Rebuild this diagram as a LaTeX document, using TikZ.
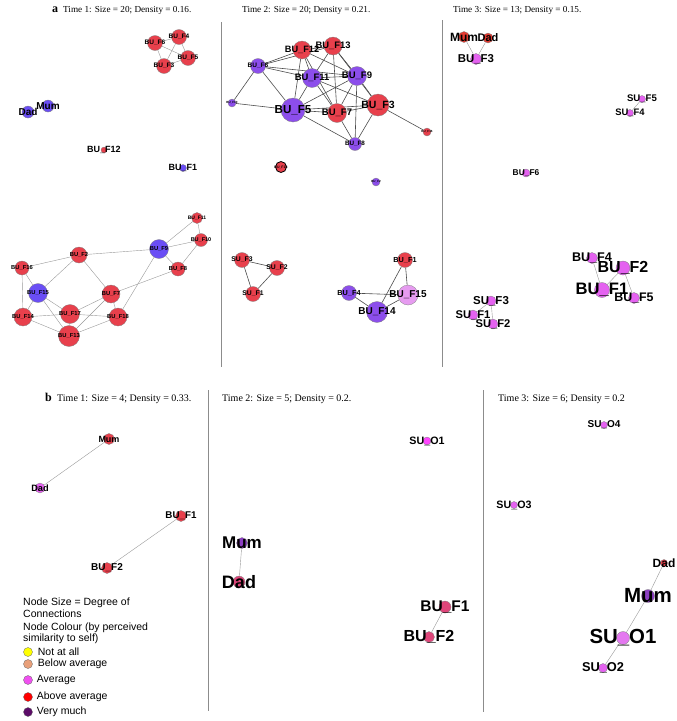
\documentclass[tikz,border=0pt]{standalone}
\usepackage{fontspec}
\setmainfont{Liberation Serif}
\setsansfont{Liberation Sans}
\usepackage{xcolor}
\usetikzlibrary{positioning,backgrounds}

\definecolor{nodeRed}{RGB}{232,64,76}
\definecolor{nodeBlue}{RGB}{106,78,245}
\definecolor{nodeViolet}{RGB}{140,78,235}
\definecolor{nodeLilac}{RGB}{230,155,240}
\definecolor{nodeMagenta}{RGB}{228,98,240}
\definecolor{nodeOrange}{RGB}{228,58,48}
\definecolor{nodeRose}{RGB}{222,70,122}
\definecolor{nodePink}{RGB}{255,70,255}
\definecolor{nodePlum}{RGB}{140,62,195}
\definecolor{nodeOrchid}{RGB}{228,120,240}
\definecolor{legYellow}{RGB}{255,255,0}
\definecolor{legPeach}{RGB}{232,160,122}
\definecolor{legMagenta}{RGB}{240,80,240}
\definecolor{legRed}{RGB}{255,0,0}
\definecolor{legPurple}{RGB}{92,12,104}

\begin{document}
\begin{tikzpicture}[
    x=1pt, y=-1pt,
    vtx/.style={circle, draw=black!50, line width=0.3pt, fill=#1, inner sep=0pt},
    vtx/.default=nodeRed,
    lab/.style={font=\fontsize{#1}{#1}\selectfont\sffamily\bfseries, inner sep=0pt, text=black},
    link/.style={draw=black!40, line width=0.4pt},
    darklink/.style={draw=black!70, line width=0.6pt},
    hdr/.style={font=\fontsize{#1}{11}\selectfont, anchor=base west, inner sep=0pt},
    tag/.style={font=\fontsize{12}{12}\selectfont\bfseries, anchor=base west, inner sep=0pt},
    legtext/.style={font=\fontsize{10.5}{12}\selectfont\sffamily, inner sep=0pt},
    legdot/.style={circle, draw=black!60, line width=0.3pt, fill=#1, minimum size=9pt, inner sep=0pt},
    divider/.style={draw=black!45, line width=0.7pt},
  ]
  \useasboundingbox (0,0) rectangle (677,721);

  % Panel separators
  \draw[divider] (221,22) -- (221,367);
  \draw[divider] (442,20) -- (442,367);
  \draw[divider] (208,390) -- (208,711);
  \draw[divider] (483,390) -- (483,712);

  % Headers
  \node[tag] (taga) at (52,12.5) {a};
  \node[hdr=9.2] (ha1) at (63,12.5) {Time 1: Size = 20; Density = 0.16.};
  \node[hdr=9.2] (ha2) at (242,12.5) {Time 2: Size = 20; Density = 0.21.};
  \node[hdr=9.2] (ha3) at (453,12.5) {Time 3: Size = 13; Density = 0.15.};
  \node[tag] (tagb) at (45,401) {b};
  \node[hdr=10] (hb1) at (57,401) {Time 1: Size = 4; Density = 0.33.};
  \node[hdr=10] (hb2) at (222,401) {Time 2: Size = 5; Density = 0.2.};
  \node[hdr=10] (hb3) at (498,401) {Time 3: Size = 6; Density = 0.2};

  % a, Time 1
  \node[vtx=nodeRed, minimum size=15pt, label={[lab=6.5]center:BU\_F4}] (a1f4) at (179,37) {};
  \node[vtx=nodeRed, minimum size=15pt, label={[lab=6.5]center:BU\_F6}] (a1f6) at (155,43) {};
  \node[vtx=nodeRed, minimum size=15pt, label={[lab=6.5]center:BU\_F5}] (a1f5) at (188,58) {};
  \node[vtx=nodeRed, minimum size=15pt, label={[lab=6.5]center:BU\_F3}] (a1f3) at (164,66) {};
  \node[vtx=nodeBlue, minimum size=12pt, label={[lab=10]center:Dad}] (a1dad) at (28,112) {};
  \node[vtx=nodeBlue, minimum size=12pt, label={[lab=10]center:Mum}] (a1mum) at (48,106) {};
  \node[vtx=nodeRed, minimum size=6pt, label={[lab=9]center:BU\_F12}] (a1f12) at (104,150) {};
  \node[vtx=nodeBlue, minimum size=7pt, label={[lab=9]center:BU\_F1}] (a1f1) at (183,168) {};
  \node[vtx=nodeRed, minimum size=11pt, label={[lab=5]center:BU\_F11}] (a1f11) at (197,218) {};
  \node[vtx=nodeRed, minimum size=13pt, label={[lab=5.5]center:BU\_F10}] (a1f10) at (201,240) {};
  \node[vtx=nodeBlue, minimum size=19pt, label={[lab=5.8]center:BU\_F9}] (a1f9) at (159,249) {};
  \node[vtx=nodeRed, minimum size=16pt, label={[lab=5.8]center:BU\_F2}] (a1f2) at (79,255) {};
  \node[vtx=nodeRed, minimum size=14pt, label={[lab=5.8]center:BU\_F16}] (a1f16) at (22,268) {};
  \node[vtx=nodeRed, minimum size=14pt, label={[lab=5.8]center:BU\_F8}] (a1f8) at (178,269) {};
  \node[vtx=nodeBlue, minimum size=19pt, label={[lab=5.8]center:BU\_F15}] (a1f15) at (38,293) {};
  \node[vtx=nodeRed, minimum size=18pt, label={[lab=5.8]center:BU\_F7}] (a1f7) at (111,294) {};
  \node[vtx=nodeRed, minimum size=18pt, label={[lab=5.8]center:BU\_F14}] (a1f14) at (23,317) {};
  \node[vtx=nodeRed, minimum size=19pt, label={[lab=5.8]center:BU\_F17}] (a1f17) at (70,314) {};
  \node[vtx=nodeRed, minimum size=18pt, label={[lab=5.8]center:BU\_F18}] (a1f18) at (118,317) {};
  \node[vtx=nodeRed, minimum size=21pt, label={[lab=5.8]center:BU\_F13}] (a1f13) at (69,336) {};

  % a, Time 2
  \begin{scope}[every node/.append style={draw=black!75}]
  \node[vtx=nodeRed, minimum size=18pt, label={[lab=9.2]center:BU\_F12}] (a2f12) at (302,50) {};
  \node[vtx=nodeRed, minimum size=18pt, label={[lab=9.4]center:BU\_F13}] (a2f13) at (333,46) {};
  \node[vtx=nodeViolet, minimum size=15pt, label={[lab=6.5]center:BU\_F6}] (a2f6) at (258,66) {};
  \node[vtx=nodeViolet, minimum size=19pt, label={[lab=9.4]center:BU\_F11}] (a2f11) at (312,78) {};
  \node[vtx=nodeViolet, minimum size=19pt, label={[lab=9.5]center:BU\_F9}] (a2f9) at (357,76) {};
  \node[vtx=nodeViolet, minimum size=8pt, label={[lab=3]center:BU\_F10}] (a2s1) at (232,103) {};
  \node[vtx=nodeViolet, minimum size=24pt, label={[lab=11.6]center:BU\_F5}] (a2f5) at (293,110) {};
  \node[vtx=nodeRed, minimum size=19pt, label={[lab=9.5]center:BU\_F7}] (a2f7) at (337,113) {};
  \node[vtx=nodeRed, minimum size=22pt, label={[lab=10.5]center:BU\_F3}] (a2f3) at (378,105) {};
  \node[vtx=nodeRed, minimum size=8pt, label={[lab=3]center:BU\_F16}] (a2s2) at (427,132) {};
  \node[vtx=nodeViolet, minimum size=13pt, label={[lab=6.3]center:BU\_F8}] (a2f8) at (355,144) {};
  \node[vtx=nodeRed, minimum size=11pt, draw=black, line width=0.8pt, label={[lab=3.5]center:BU\_F18}] (a2s3) at (281,167) {};
  \node[vtx=nodeViolet, minimum size=8pt, label={[lab=3]center:BU\_F2}] (a2s4) at (376,182) {};
  \node[vtx=nodeRed, minimum size=15pt, label={[lab=6.8]center:SU\_F3}] (a2su3) at (242,260) {};
  \node[vtx=nodeRed, minimum size=15pt, label={[lab=6.8]center:SU\_F2}] (a2su2) at (277,268) {};
  \node[vtx=nodeRed, minimum size=15pt, label={[lab=6.8]center:SU\_F1}] (a2su1) at (253,294) {};
  \node[vtx=nodeRed, minimum size=15pt, label={[lab=7.3]center:BU\_F1}] (a2f1) at (405,260) {};
  \node[vtx=nodeViolet, minimum size=15pt, label={[lab=7.3]center:BU\_F4}] (a2f4) at (349,293) {};
  \node[vtx=nodeLilac, minimum size=20pt, label={[lab=10]center:BU\_F15}] (a2f15) at (408,295) {};
  \node[vtx=nodeViolet, minimum size=21pt, label={[lab=10]center:BU\_F14}] (a2f14) at (377,312) {};
  \end{scope}

  % a, Time 3
  \node[vtx=nodeOrange, minimum size=11pt, label={[lab=12]center:Mum}] (a3mum) at (464,37) {};
  \node[vtx=nodeOrange, minimum size=10pt, label={[lab=11]center:Dad}] (a3dad) at (488,38) {};
  \node[vtx=nodeMagenta, minimum size=11pt, label={[lab=11.4]center:BU\_F3}] (a3f3) at (476,59) {};
  \node[vtx=nodeMagenta, minimum size=7pt, label={[lab=9.6]center:SU\_F5}] (a3s5) at (642,99) {};
  \node[vtx=nodeMagenta, minimum size=7pt, label={[lab=9.4]center:SU\_F4}] (a3s4) at (630,113) {};
  \node[vtx=nodeMagenta, minimum size=8pt, label={[lab=8.4]center:BU\_F6}] (a3f6) at (526,173) {};
  \node[vtx=nodeMagenta, minimum size=11pt, label={[lab=12.6]center:BU\_F4}] (a3f4) at (592,258) {};
  \node[vtx=nodeMagenta, minimum size=14pt, label={[lab=16]center:BU\_F2}] (a3f2) at (623,268) {};
  \node[vtx=nodeMagenta, minimum size=15pt, label={[lab=16.6]center:BU\_F1}] (a3f1) at (602,290) {};
  \node[vtx=nodeMagenta, minimum size=11pt, label={[lab=12.4]center:BU\_F5}] (a3f5) at (634,298) {};
  \node[vtx=nodeMagenta, minimum size=10pt, label={[lab=11.5]center:SU\_F3}] (a3su3) at (491,301) {};
  \node[vtx=nodeMagenta, minimum size=10pt, label={[lab=11.2]center:SU\_F1}] (a3su1) at (473,315) {};
  \node[vtx=nodeMagenta, minimum size=10pt, label={[lab=11.2]center:SU\_F2}] (a3su2) at (493,324) {};

  % b, Time 1
  \node[vtx=nodeRed, minimum size=11pt, label={[lab=9]center:Mum}] (b1mum) at (109,439) {};
  \node[vtx=nodeMagenta, minimum size=10pt, label={[lab=9.2]center:Dad}] (b1dad) at (40,488) {};
  \node[vtx=nodeRed, minimum size=11pt, label={[lab=9.8]center:BU\_F1}] (b1f1) at (181,516) {};
  \node[vtx=nodeRed, minimum size=11pt, label={[lab=10]center:BU\_F2}] (b1f2) at (107,568) {};

  % b, Time 2
  \node[vtx=nodePink, minimum size=8pt, label={[lab=10.7]center:SU\_O1}] (b2so1) at (427,441) {};
  \node[vtx=nodePlum, minimum size=11pt, label={[lab=17]center:Mum}] (b2mum) at (242,543) {};
  \node[vtx=nodeRose, minimum size=12pt, label={[lab=18]center:Dad}] (b2dad) at (239,582) {};
  \node[vtx=nodeRose, minimum size=12pt, label={[lab=15.5]center:BU\_F1}] (b2f1) at (445,607) {};
  \node[vtx=nodeRose, minimum size=11pt, label={[lab=16]center:BU\_F2}] (b2f2) at (429,637) {};

  % b, Time 3
  \node[vtx=nodeMagenta, minimum size=7pt, label={[lab=10]center:SU\_O4}] (b3so4) at (604,425) {};
  \node[vtx=nodeMagenta, minimum size=7pt, label={[lab=10.7]center:SU\_O3}] (b3so3) at (514,505) {};
  \node[vtx=nodeRed, minimum size=7pt, label={[lab=12]center:Dad}] (b3dad) at (664,563) {};
  \node[vtx=nodePlum, minimum size=13pt, label={[lab=20.5]center:Mum}] (b3mum) at (648,596) {};
  \node[vtx=nodeOrchid, minimum size=13pt, label={[lab=20.4]center:SU\_O1}] (b3so1) at (623,638) {};
  \node[vtx=nodeMagenta, minimum size=9pt, label={[lab=12.8]center:SU\_O2}] (b3so2) at (603,668) {};

  % Legend
  \node[legtext, anchor=base west] (key1) at (23,605) {Node Size = Degree of};
  \node[legtext, anchor=base west] (key2) at (23,617.5) {Connections};
  \node[legtext, anchor=base west] (key3) at (23,630) {Node Colour (by perceived};
  \node[legtext, anchor=base west] (key4) at (23,641.5) {similarity to self)};
  \node[legdot=legYellow] (dot1) at (28,652) {};
  \node[legdot=legPeach] (dot2) at (28,664) {};
  \node[legdot=legMagenta] (dot3) at (28,680) {};
  \node[legdot=legRed] (dot4) at (28,697) {};
  \node[legdot=legPurple] (dot5) at (28,712) {};
  \node[legtext, right=5pt of dot1] (leg1) {Not at all};
  \node[legtext, right=5pt of dot2] (leg2) {Below average};
  \node[legtext, right=4pt of dot3] (leg3) {Average};
  \node[legtext, right=4pt of dot4] (leg4) {Above average};
  \node[legtext, right=4pt of dot5] (leg5) {Very much};

  % Ties, kept under the nodes
  \begin{scope}[on background layer]
    \foreach \u/\v in {a1f4/a1f6, a1f4/a1f5, a1f4/a1f3, a1f6/a1f5, a1f6/a1f3, a1f5/a1f3,
        a1f11/a1f9, a1f11/a1f10, a1f9/a1f10, a1f10/a1f8, a1f9/a1f8, a1f9/a1f2, a1f9/a1f18,
        a1f2/a1f16, a1f2/a1f15, a1f2/a1f7, a1f8/a1f7, a1f16/a1f15, a1f16/a1f14, a1f15/a1f14,
        a1f15/a1f17, a1f15/a1f13, a1f7/a1f17, a1f7/a1f13, a1f7/a1f18, a1f14/a1f17,
        a1f17/a1f18, a1f14/a1f13, a1f17/a1f13, a1f13/a1f18}
      \draw[link] (\u) -- (\v);
    \foreach \u/\v in {a2f12/a2f6, a2f13/a2f6, a2f12/a2f13, a2f12/a2f11, a2f12/a2f5, a2f12/a2f7,
        a2f12/a2f9, a2f13/a2f11, a2f13/a2f7, a2f13/a2f9, a2f13/a2f3, a2f6/a2f9, a2f6/a2f5,
        a2f6/a2s1, a2f6/a2f11, a2s1/a2f5, a2f11/a2f5, a2f11/a2f7, a2f11/a2f9, a2f11/a2f3,
        a2f9/a2f5, a2f9/a2f7, a2f9/a2f3, a2f9/a2f8, a2f5/a2f7, a2f5/a2f3, a2f5/a2f8,
        a2f7/a2f3, a2f7/a2f8, a2f3/a2f8, a2f3/a2s2,
        a2su3/a2su2, a2su3/a2su1, a2su2/a2su1,
        a2f1/a2f14, a2f1/a2f15, a2f4/a2f15, a2f4/a2f14, a2f14/a2f15}
      \draw[darklink] (\u) -- (\v);
    \foreach \u/\v in {a3mum/a3f3, a3dad/a3f3, a3s5/a3s4, a3f4/a3f1, a3f2/a3f1, a3f2/a3f5,
        a3su3/a3su1, a3su3/a3su2,
        b1mum/b1dad, b1f1/b1f2, b2mum/b2dad, b2f1/b2f2,
        b3dad/b3mum, b3mum/b3so1, b3so1/b3so2}
      \draw[link] (\u) -- (\v);
  \end{scope}
\end{tikzpicture}
\end{document}
